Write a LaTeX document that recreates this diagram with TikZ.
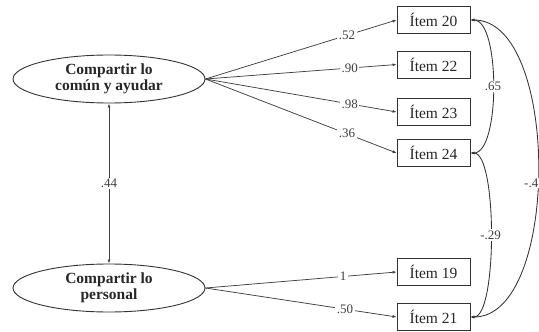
\documentclass[tikz,border=0pt]{standalone}
\usepackage{fontspec}
\setmainfont{Liberation Serif}
\usetikzlibrary{arrows.meta,shapes.geometric}
\begin{document}
\begin{tikzpicture}[x=1pt,y=-1pt,
  latent/.style={draw=black!80,line width=0.9pt,ellipse,minimum width=192pt,minimum height=48pt,inner sep=0pt,align=center,font=\fontsize{15.5}{15.5}\selectfont\bfseries,text=black!85},
  item/.style={draw=black!80,line width=0.8pt,rectangle,minimum width=73pt,minimum height=27pt,inner sep=0pt,font=\fontsize{15.5}{16}\selectfont,text=black!85},
  lbl/.style={fill=white,inner sep=1.5pt,font=\fontsize{13}{13}\selectfont,text=black!75},
  path/.style={draw=black!75,line width=0.75pt,-{Latex[length=4pt,width=3pt]}},
  cov/.style={draw=black!80,line width=0.85pt,{Latex[length=4pt,width=3pt]}-{Latex[length=4pt,width=3pt]}}]
\useasboundingbox (0,0) rectangle (539,332);
\node[latent] (f1) at (109,79) {Compartir lo\\común y ayudar};
\node[latent] (f2) at (109,288) {Compartir lo\\personal};
\node[item] (i20) at (433.5,20) {Ítem 20};
\node[item] (i22) at (433.5,64.5) {Ítem 22};
\node[item] (i23) at (433.5,112) {Ítem 23};
\node[item] (i24) at (433.5,153) {Ítem 24};
\node[item] (i19) at (433.5,272) {Ítem 19};
\node[item] (i21) at (433.5,317) {Ítem 21};
\draw[path] (f1.east) -- node[lbl,pos=0.74] {.52} (i20.west);
\draw[path] (f1.east) -- node[lbl,pos=0.755] {.90} (i22.west);
\draw[path] (f1.east) -- node[lbl,pos=0.755] {.98} (i23.west);
\draw[path] (f1.east) -- node[lbl,pos=0.74] {.36} (i24.west);
\draw[path] (f2.east) -- node[lbl,pos=0.72] {1} (i19.west);
\draw[path] (f2.east) -- node[lbl,pos=0.73] {.50} (i21.west);
\draw[cov,draw=black!75] (f1.south) -- node[lbl] {.44} (f2.north);
\draw[cov] (i20.east) .. controls +(30,0) and +(30,0) .. node[lbl,pos=0.5] (c1) {.65} (i24.east);
\draw[cov] (i24.east) .. controls +(27,0) and +(27,0) .. node[lbl,pos=0.5] (c2) {-.29} (i21.east);
\draw[cov] (i20.east) .. controls +(90,0) and +(90,0) .. coordinate[pos=0.5] (c3) (i21.east);
\node[lbl,anchor=east,inner sep=0.5pt] at (539,183) {-.4};
\end{tikzpicture}
\end{document}
